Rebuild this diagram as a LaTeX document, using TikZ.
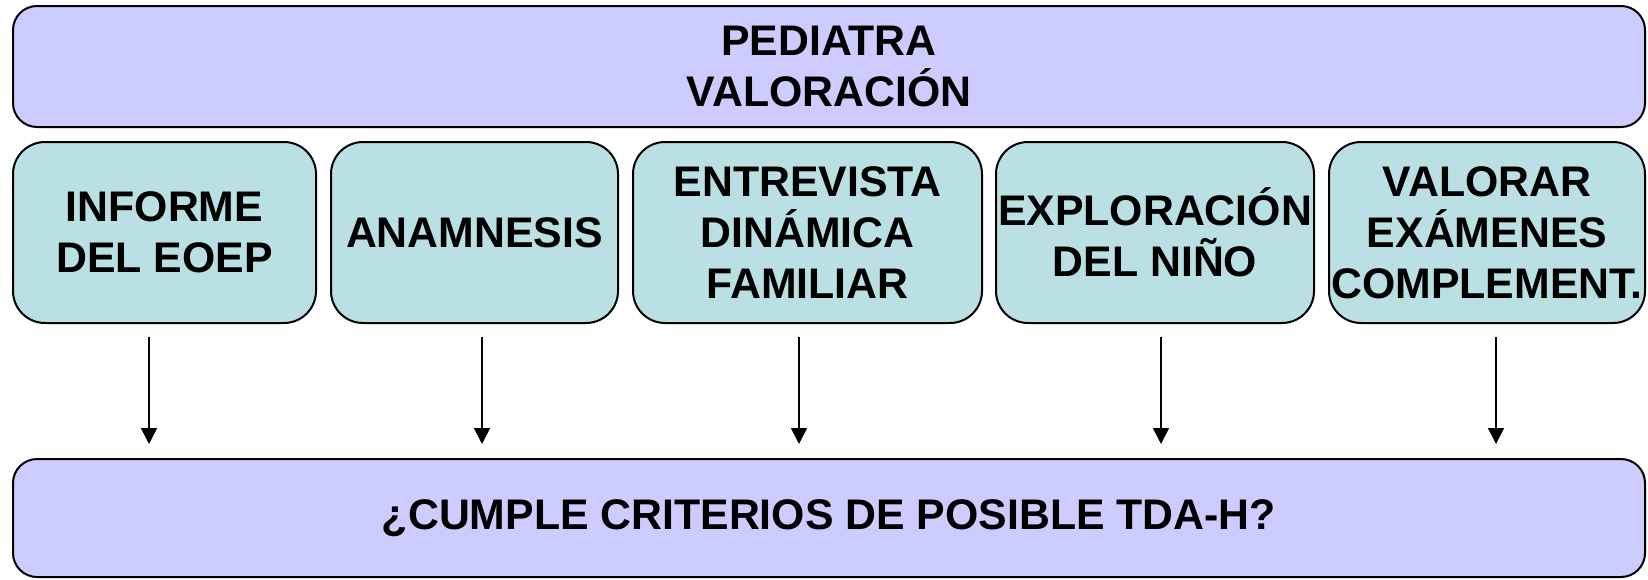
\documentclass[tikz,border=0pt]{standalone}
\usepackage{fontspec}
\setmainfont{Liberation Sans}
\usetikzlibrary{arrows.meta}
\definecolor{lavbox}{HTML}{CCCCFF}
\definecolor{tealbox}{HTML}{BAE0E3}
\begin{document}
\begin{tikzpicture}[x=0.5pt,y=-0.5pt,
  box/.style={draw=black, line width=1pt, inner sep=0pt, outer sep=0pt, align=center,
    font=\fontsize{21.4}{25.5}\selectfont\bfseries},
  bigbox/.style={box, fill=lavbox, rounded corners=12pt, minimum width=816pt},
  subbox/.style={box, fill=tealbox, rounded corners=16pt, minimum height=90.5pt},
  arr/.style={draw=black, line width=0.8pt, -{Triangle[width=8pt,length=8pt]},
    shorten <=7pt, shorten >=7.5pt}]
\path[use as bounding box] (0,0) rectangle (1648,579);
\node[bigbox, minimum height=60.5pt] (top) at (829,66.5) {PEDIATRA\\VALORACIÓN};
\node[subbox, minimum width=151.5pt] (b1) at (164.5,232.5) {INFORME\\DEL EOEP};
\node[subbox, minimum width=143.5pt] (b2) at (474.5,232.5) {ANAMNESIS};
\node[subbox, minimum width=174.5pt] (b3) at (807.5,232.5) {ENTREVISTA\\DINÁMICA\\FAMILIAR};
\node[subbox, minimum width=159pt] (b4) at (1155,232.5) {EXPLORACIÓN\\DEL NIÑO};
\node[subbox, minimum width=158pt] (b5) at (1487,232.5) {VALORAR\\EXÁMENES\\COMPLEMENT.};
\node[bigbox, minimum height=59pt] (bot) at (829,518) {¿CUMPLE CRITERIOS DE POSIBLE TDA-H?};
\draw[arr] ([xshift=-7.75pt]b1.south) -- ([xshift=-7.75pt]b1.south |- bot.north);
\draw[arr] ([xshift=3.75pt]b2.south) -- ([xshift=3.75pt]b2.south |- bot.north);
\draw[arr] ([xshift=-4.25pt]b3.south) -- ([xshift=-4.25pt]b3.south |- bot.north);
\draw[arr] ([xshift=3pt]b4.south) -- ([xshift=3pt]b4.south |- bot.north);
\draw[arr] ([xshift=4.5pt]b5.south) -- ([xshift=4.5pt]b5.south |- bot.north);
\end{tikzpicture}
\end{document}
